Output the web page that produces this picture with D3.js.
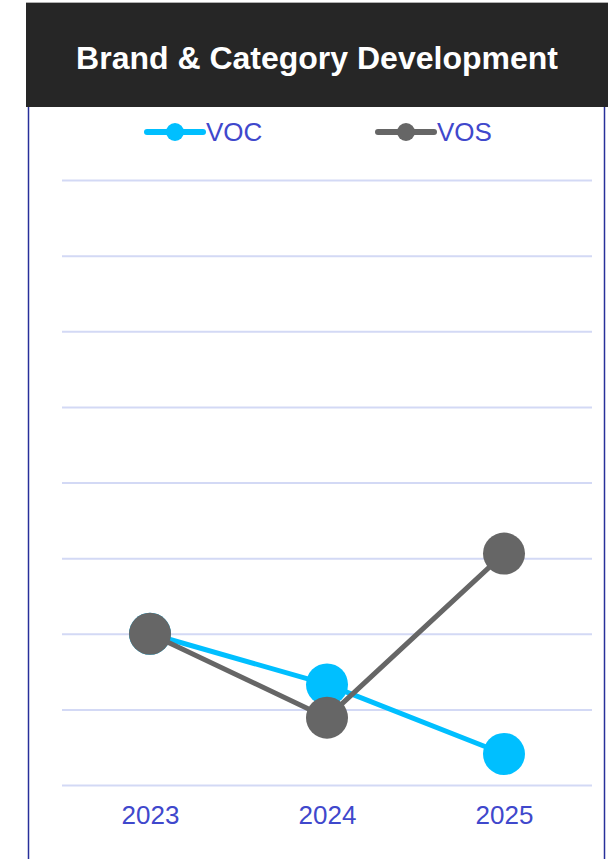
<!DOCTYPE html>
<html>
<head>
<meta charset="utf-8">
<script src="https://cdn.jsdelivr.net/npm/d3@7"></script>
<style>
  html, body { margin: 0; padding: 0; background: #ffffff; }
  svg { display: block; font-family: "Liberation Sans", Arial, sans-serif; }
</style>
</head>
<body>
<svg id="chart" width="608" height="859"></svg>
<script>
// Yearly index values for the two series
const years = ["2023", "2024", "2025"];
const vocValues = [2.0, 1.33, 0.41];
const vosValues = [2.0, 0.89, 3.06];
const yTicks = [0, 1, 2, 3, 4, 5, 6, 7, 8];
const seriesNames = ["VOC", "VOS"];
const seriesColors = ["#00bfff", "#666666"];

const svg = d3.select("#chart");
const W = 608, H = 859;

// Panel frame and dark title bar
svg.append("rect")
  .attr("x", 28.5).attr("y", 106).attr("width", 576).attr("height", H)
  .attr("fill", "#ffffff").attr("stroke", "#28309a").attr("stroke-width", 1.5);

svg.append("rect")
  .attr("x", 26).attr("y", 3).attr("width", 582).attr("height", 104)
  .attr("fill", "#262626");
svg.append("line")
  .attr("x1", 26).attr("x2", 608).attr("y1", 2.5).attr("y2", 2.5)
  .attr("stroke", "#b0b0b0").attr("stroke-width", 1);

svg.append("text")
  .attr("x", 317).attr("y", 69)
  .attr("text-anchor", "middle")
  .attr("fill", "#ffffff")
  .attr("font-size", 32).attr("font-weight", "bold")
  .text("Brand & Category Development");

// Scales
const plot = { left: 62, right: 592, top: 180, bottom: 785 };
const x = d3.scalePoint().domain(years).range([150, 504]);
const y = d3.scaleLinear().domain([0, 8]).range([plot.bottom, plot.top]);

// Horizontal gridlines
const grid = svg.append("g")
  .attr("transform", `translate(${plot.left},0)`)
  .call(d3.axisLeft(y).tickValues(yTicks).tickSize(-(plot.right - plot.left)).tickFormat(""));
grid.select(".domain").remove();
grid.selectAll(".tick line").attr("stroke", "#d3d9f5").attr("stroke-width", 2);

// Year labels
const xAxis = svg.append("g")
  .attr("transform", `translate(0,${plot.bottom})`)
  .call(d3.axisBottom(x).tickSize(0).tickPadding(21));
xAxis.select(".domain").remove();
xAxis.selectAll("text")
  .attr("fill", "#3f48cc")
  .attr("font-size", 26)
  .attr("font-family", "'Liberation Sans', Arial, sans-serif");

// Series lines and markers
const series = [vocValues, vosValues];
const line = d3.line().x((d, i) => x(years[i])).y(d => y(d));

series.forEach((vals, s) => {
  const g = svg.append("g");
  g.append("path")
    .datum(vals)
    .attr("d", line)
    .attr("fill", "none")
    .attr("stroke", seriesColors[s])
    .attr("stroke-width", 5)
    .attr("stroke-linejoin", "round");
  g.selectAll("circle")
    .data(vals)
    .join("circle")
    .attr("cx", (d, i) => x(years[i]))
    .attr("cy", d => y(d))
    .attr("r", 21)
    .attr("fill", seriesColors[s]);
});

// Legend
const legendX = [147, 378];
seriesNames.forEach((name, s) => {
  const g = svg.append("g").attr("transform", `translate(${legendX[s]},132)`);
  g.append("line")
    .attr("x1", 0).attr("x2", 56).attr("y1", 0).attr("y2", 0)
    .attr("stroke", seriesColors[s]).attr("stroke-width", 6)
    .attr("stroke-linecap", "round");
  g.append("circle").attr("cx", 28).attr("cy", 0).attr("r", 9)
    .attr("fill", seriesColors[s]);
  g.append("text")
    .attr("x", 59).attr("y", 9)
    .attr("fill", "#3f48cc")
    .attr("font-size", 26)
    .text(name);
});
</script>
</body>
</html>
